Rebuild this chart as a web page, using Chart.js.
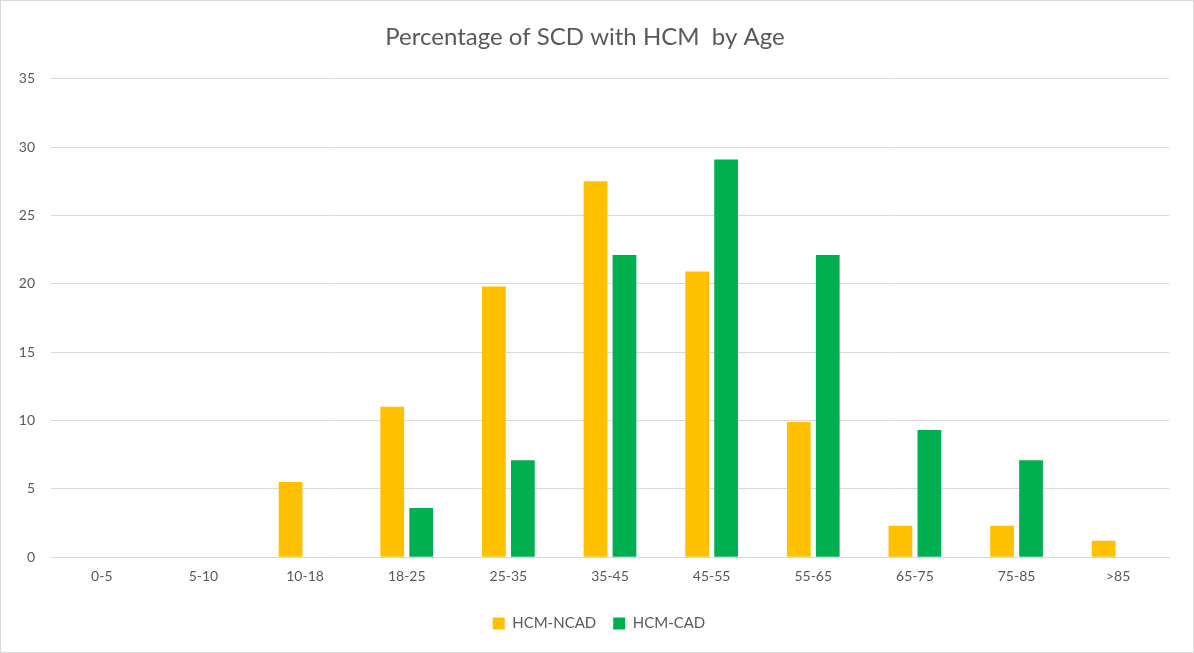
<!DOCTYPE html>
<html lang="en">
<head>
    <meta charset="UTF-8">
    <title>Percentage of SCD with HCM by Age</title>
    <script src="https://cdn.jsdelivr.net/npm/chart.js"></script>
    <style>
        html, body { margin: 0; padding: 0; background: #fff; }
        .frame {
            width: 1192px;
            height: 651px;
            border: 1px solid #d9d9d9;
            position: relative;
        }
    </style>
</head>
<body>
    <div class="frame">
        <canvas id="scdChart" width="1192" height="651"></canvas>
    </div>

    <script>
        // Age groups (x axis)
        const ageGroups = ['0-5', '5-10', '10-18', '18-25', '25-35', '35-45', '45-55', '55-65', '65-75', '75-85', '>85'];

        // Percentages
        const hcmNcad = [0, 0, 5.5, 11.0, 19.8, 27.5, 20.9, 9.9, 2.3, 2.3, 1.2];
        const hcmCad  = [0, 0, 0, 3.6, 7.1, 22.1, 29.1, 22.1, 9.3, 7.1, 0];

        const yTicks = [0, 5, 10, 15, 20, 25, 30, 35];

        const textColor = '#595959';
        const gridColor = '#d9d9d9';
        const fontFamily = 'Lato, "Open Sans", "Liberation Sans", sans-serif';

        // centre the legend on the whole picture, not on the padded box
        const legendShift = {
            id: 'legendShift',
            afterLayout(chart) {
                const lg = chart.legend;
                if (!lg) return;
                lg.left += 14; lg.right += 14;
                lg.top -= 2; lg.bottom -= 2;
            }
        };

        const ctx = document.getElementById('scdChart').getContext('2d');
        const scdChart = new Chart(ctx, {
            type: 'bar',
            data: {
                labels: ageGroups,
                datasets: [
                    { label: 'HCM-NCAD', data: hcmNcad, backgroundColor: '#FFC000' },
                    { label: 'HCM-CAD', data: hcmCad, backgroundColor: '#00B050' }
                ]
            },
            plugins: [legendShift],
            options: {
                responsive: false,
                animation: false,
                datasets: {
                    bar: { categoryPercentage: 0.57, barPercentage: 0.82 }
                },
                layout: { padding: { left: 0, right: 24, top: 0, bottom: 9 } },
                plugins: {
                    title: {
                        display: true,
                        text: 'Percentage of SCD with HCM  by Age',
                        color: textColor,
                        font: { family: fontFamily, size: 24, weight: 'normal' },
                        padding: { top: 22, bottom: 27 }
                    },
                    legend: {
                        position: 'bottom',
                        labels: {
                            color: textColor,
                            font: { family: fontFamily, size: 15 },
                            boxWidth: 12,
                            boxHeight: 12,
                            padding: 17
                        }
                    },
                    tooltip: { enabled: false }
                },
                scales: {
                    x: {
                        grid: { display: false, drawTicks: false },
                        border: { color: gridColor },
                        afterFit: (scale) => { scale.height += 5; },
                        ticks: {
                            color: textColor,
                            font: { family: fontFamily, size: 14 },
                            padding: 11,
                            maxRotation: 0
                        }
                    },
                    y: {
                        min: 0,
                        max: 35,
                        afterBuildTicks: (scale) => {
                            scale.ticks = yTicks.map(v => ({ value: v }));
                        },
                        afterFit: (scale) => { scale.width = 50; },
                        grid: { color: gridColor, drawTicks: false },
                        border: { display: false },
                        ticks: {
                            color: textColor,
                            font: { family: fontFamily, size: 14 },
                            padding: 16
                        }
                    }
                }
            }
        });
    </script>
</body>
</html>
